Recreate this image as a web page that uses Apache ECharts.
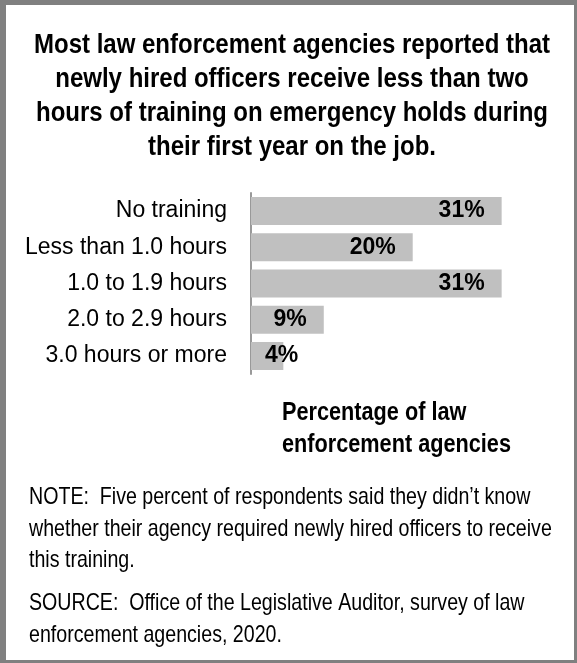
<!DOCTYPE html>
<html>
<head>
<meta charset="utf-8">
<script src="https://cdn.jsdelivr.net/npm/echarts@6/dist/echarts.min.js"></script>
<style>
html,body{margin:0;padding:0;background:#fff;}
#chart{width:577px;height:663px;}
</style>
</head>
<body>
<div id="chart"></div>
<script>
const categories = ["No training", "Less than 1.0 hours", "1.0 to 1.9 hours", "2.0 to 2.9 hours", "3.0 hours or more"];
const values = [31, 20, 31, 9, 4];
const titleLines = [
  "Most law enforcement agencies reported that",
  "newly hired officers receive less than two",
  "hours of training on emergency holds during",
  "their first year on the job."
];
const axisTitleLines = ["Percentage of law", "enforcement agencies"];
const noteLines = [
  "NOTE:  Five percent of respondents said they didn\u2019t know",
  "whether their agency required newly hired officers to receive",
  "this training."
];
const sourceLines = [
  "SOURCE:  Office of the Legislative Auditor, survey of law",
  "enforcement agencies, 2020."
];

const FONT = "'Liberation Sans', Arial, sans-serif";
const chart = echarts.init(document.getElementById('chart'), null, {renderer: 'canvas'});

const seriesData = values.map(v => v < 6
  ? {value: v, label: {position: 'insideLeft', distance: 14}}
  : {value: v});

chart.setOption({
  backgroundColor: '#808080',
  animation: false,
  graphic: [
    {type: 'rect', z: -10, shape: {x: 6, y: 5, width: 568, height: 655}, style: {fill: '#ffffff'}},
    {type: 'text', x: 292, y: 28, scaleX: 0.857, style: {
      text: titleLines.join('\n'), fontFamily: FONT, fontWeight: 'bold', fontSize: 28,
      lineHeight: 34, fill: '#000', align: 'center', verticalAlign: 'top'}},
    {type: 'text', x: 282, y: 397, scaleX: 0.834, style: {
      text: axisTitleLines.join('\n'), fontFamily: FONT, fontWeight: 'bold', fontSize: 26,
      lineHeight: 32, fill: '#000', align: 'left', verticalAlign: 'top'}},
    {type: 'text', x: 29, y: 482, scaleX: 0.817, style: {
      text: noteLines.join('\n'), fontFamily: FONT, fontSize: 24,
      lineHeight: 31.5, fill: '#000', align: 'left', verticalAlign: 'top'}},
    {type: 'text', x: 29, y: 588, scaleX: 0.817, style: {
      text: sourceLines.join('\n'), fontFamily: FONT, fontSize: 24,
      lineHeight: 31.5, fill: '#000', align: 'left', verticalAlign: 'top'}}
  ],
  grid: {left: 251, top: 193, height: 181, width: 283, outerBoundsMode: 'none', containLabel: false},
  xAxis: {
    type: 'value', min: 0, max: 35, show: false
  },
  yAxis: {
    type: 'category', data: categories, inverse: true,
    axisLine: {show: true, lineStyle: {color: '#999999', width: 2}},
    axisTick: {show: false},
    axisLabel: {fontFamily: FONT, fontSize: 23, color: '#000', margin: 24}
  },
  series: [{
    type: 'bar', data: seriesData, barWidth: 28,
    itemStyle: {color: '#c0c0c0'},
    label: {show: true, position: 'insideRight', distance: 17,
      formatter: '{c}%', fontFamily: FONT, fontWeight: 'bold', fontSize: 23, color: '#000'}
  }]
});
</script>
</body>
</html>
